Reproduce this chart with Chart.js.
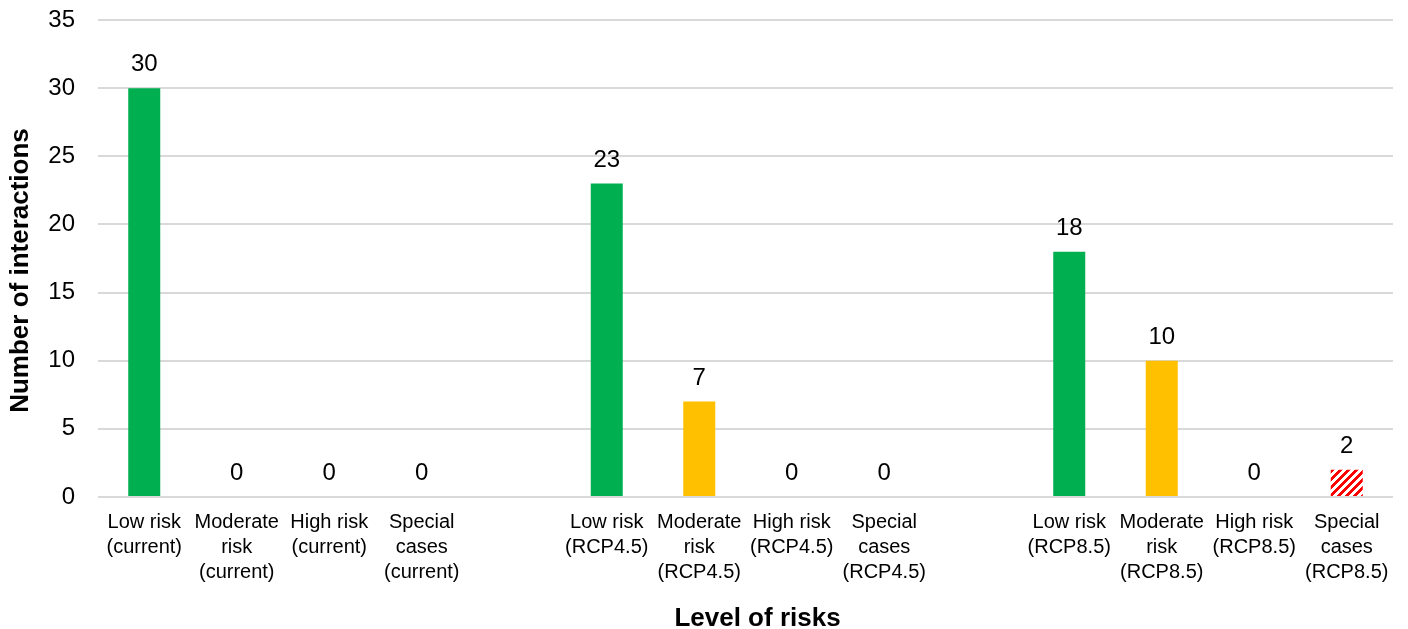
<!DOCTYPE html>
<html>
<head>
<meta charset="utf-8">
<script src="https://cdn.jsdelivr.net/npm/chart.js@4/dist/chart.umd.min.js"></script>
<style>
  html, body { margin: 0; padding: 0; background: #ffffff; }
  #wrap { width: 1408px; height: 629px; }
</style>
</head>
<body>
<div id="wrap"><canvas id="c" width="1408" height="629"></canvas></div>
<script>
// Categories (blank entries separate the three scenario groups)
const categories = [
  ['Low risk', '(current)'], ['Moderate', 'risk', '(current)'], ['High risk', '(current)'], ['Special', 'cases', '(current)'],
  '',
  ['Low risk', '(RCP4.5)'], ['Moderate', 'risk', '(RCP4.5)'], ['High risk', '(RCP4.5)'], ['Special', 'cases', '(RCP4.5)'],
  '',
  ['Low risk', '(RCP8.5)'], ['Moderate', 'risk', '(RCP8.5)'], ['High risk', '(RCP8.5)'], ['Special', 'cases', '(RCP8.5)']
];

// Number of interactions per category
const interactions = [30, 0, 0, 0, null, 23, 7, 0, 0, null, 18, 10, 0, 2];

// Risk level of each category, used to pick the bar fill
const riskLevel = ['low', 'moderate', 'high', 'special', null,
                   'low', 'moderate', 'high', 'special', null,
                   'low', 'moderate', 'high', 'special'];

const yTicks = [0, 5, 10, 15, 20, 25, 30, 35];

const xTitle = 'Level of risks';
const yTitle = 'Number of interactions';

const FONT = '"Liberation Sans", Arial, sans-serif';

// Red "wide upward diagonal" hatch on white
function makeHatch() {
  const t = document.createElement('canvas');
  t.width = 8; t.height = 8;
  const g = t.getContext('2d');
  g.fillStyle = '#ffffff';
  g.fillRect(0, 0, 8, 8);
  g.fillStyle = '#ff0000';
  for (let y = 0; y < 8; y++) {
    for (let x = 0; x < 8; x++) {
      if ((x + y) % 8 < 4) g.fillRect(x, y, 1, 1);
    }
  }
  return document.getElementById('c').getContext('2d').createPattern(t, 'repeat');
}

const fills = {
  low: '#00b050',
  moderate: '#ffc000',
  high: '#c00000',
  special: makeHatch()
};

// Value labels above each bar
const valueLabels = {
  id: 'valueLabels',
  afterDatasetsDraw(chart) {
    const ctx = chart.ctx;
    const meta = chart.getDatasetMeta(0);
    ctx.save();
    ctx.font = '24px ' + FONT;
    ctx.fillStyle = '#000000';
    ctx.textAlign = 'center';
    ctx.textBaseline = 'alphabetic';
    meta.data.forEach((bar, i) => {
      const v = interactions[i];
      if (v === null || v === undefined) return;
      ctx.fillText(String(v), bar.x, bar.y - 17);
    });
    ctx.restore();
  }
};

// Axis titles, centred a little off the plot area like the original layout
const axisTitles = {
  id: 'axisTitles',
  afterDraw(chart) {
    const ctx = chart.ctx;
    const area = chart.chartArea;
    ctx.save();
    ctx.font = 'bold 26px ' + FONT;
    ctx.fillStyle = '#000000';
    ctx.textAlign = 'center';
    ctx.textBaseline = 'middle';
    ctx.fillText(xTitle, (area.left + area.right) / 2 + 12, chart.height - 10);
    ctx.translate(21, (area.top + area.bottom) / 2 + 12);
    ctx.rotate(-Math.PI / 2);
    ctx.fillText(yTitle, 0, 0);
    ctx.restore();
  }
};

new Chart(document.getElementById('c'), {
  type: 'bar',
  data: {
    labels: categories,
    datasets: [{
      data: interactions,
      backgroundColor: riskLevel.map(r => r ? fills[r] : 'rgba(0,0,0,0)'),
      borderWidth: 0,
      categoryPercentage: 1,
      barPercentage: 0.346
    }]
  },
  options: {
    responsive: false,
    animation: false,
    layout: { padding: { top: 20, right: 15, left: 0, bottom: 0 } },
    plugins: {
      legend: { display: false },
      tooltip: { enabled: false }
    },
    scales: {
      x: {
        grid: { display: false, drawTicks: false },
        border: { display: false },
        ticks: {
          color: '#000000',
          font: { family: FONT, size: 20, lineHeight: 1.25 },
          padding: 13,
          maxRotation: 0,
          autoSkip: false
        },
        afterFit(scale) { scale.height = 132; }
      },
      y: {
        min: 0,
        max: 35,
        afterBuildTicks(scale) { scale.ticks = yTicks.map(v => ({ value: v })); },
        grid: { color: '#d9d9d9', lineWidth: 2, drawTicks: false },
        border: { display: false },
        ticks: {
          color: '#000000',
          font: { family: FONT, size: 24 },
          padding: 23
        },
        afterFit(scale) {
          scale.width = 98;
          scale.paddingTop = 0;
          scale.paddingBottom = 0;
        }
      }
    }
  },
  plugins: [valueLabels, axisTitles]
});
</script>
</body>
</html>
